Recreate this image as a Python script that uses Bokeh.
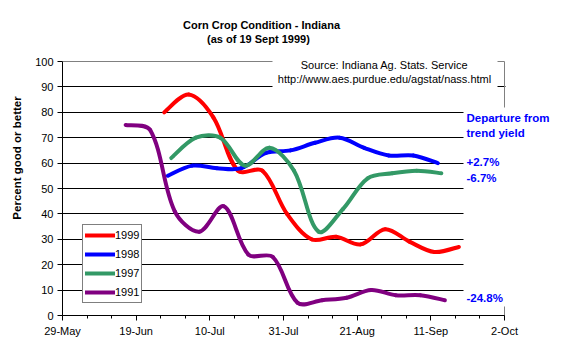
import datetime as dt
import numpy as np
from bokeh.plotting import figure
from bokeh.models import (FixedTicker, Label, BoxAnnotation, Legend, LegendItem,
                          Range1d, ColumnDataSource)
from bokeh.embed import file_html
from bokeh.resources import INLINE

# ---------------- data ----------------
x_start_md = "05-29"
x_end_md = "10-02"
x_major_md = ["05-29", "06-19", "07-10", "07-31", "08-21", "09-11", "10-02"]
y_ticks = [0, 10, 20, 30, 40, 50, 60, 70, 80, 90, 100]
grid_ticks = [10, 20, 30, 40, 50, 60, 70, 80, 90]

dates_1999 = ["06-27", "07-04", "07-11", "07-18", "07-25", "08-01", "08-08",
              "08-15", "08-22", "08-29", "09-05", "09-12", "09-19"]
vals_1999 = [80, 87, 78, 57, 57, 40, 30, 31, 28, 34, 29, 25, 27]

dates_1998 = ["06-28", "07-05", "07-12", "07-19", "07-26", "08-02", "08-09",
              "08-16", "08-23", "08-30", "09-06", "09-13"]
vals_1998 = [55, 59, 58, 58, 64, 65, 68, 70, 66, 63, 63, 60]

dates_1997 = ["06-29", "07-06", "07-13", "07-20", "07-27", "08-03", "08-10",
              "08-17", "08-24", "08-31", "09-07", "09-14"]
vals_1997 = [62, 70, 70, 59, 66, 57, 33, 42, 54, 56, 57, 56]

dates_1991 = ["06-16", "06-23", "06-30", "07-07", "07-14", "07-21", "07-28",
              "08-04", "08-11", "08-18", "08-25", "09-01", "09-08", "09-15"]
vals_1991 = [75, 73, 41, 33, 43, 24, 23, 5, 6, 7, 10, 8, 8, 6]

series_names = ["1999", "1998", "1997", "1991"]
series_colors = ["#FF0000", "#0000FF", "#339966", "#800080"]
departure_labels = {"1998": "+2.7%", "1997": "-6.7%", "1991": "-24.8%"}

# ---------------- helpers ----------------
EPOCH = dt.datetime(1970, 1, 1)


def to_dt(md):
    return dt.datetime.strptime("1999-" + md, "%Y-%m-%d")


def to_ms(md):
    return (to_dt(md) - EPOCH).total_seconds() * 1000.0


X0, X1 = to_ms(x_start_md), to_ms(x_end_md)
Y0, Y1 = 0.0, 100.0
# pixel geometry of the chart's plot area (axes extent)
FL, FR, FT, FB = 62, 504, 61, 315
W, H = 562, 356
SX = (FR - FL) / (X1 - X0)   # px per ms
SY = (FB - FT) / (Y1 - Y0)   # px per unit


def px_x(px):
    return X0 + (px - FL) / SX


def px_y(py):
    return Y0 + (FB - py) / SY


def bezier_source(mds, vals, tension=1.0 / 3.0):
    """Smoothed-line (spreadsheet style) Bezier segments through the points."""
    x = np.array([to_ms(m) for m in mds])
    y = np.array(vals, dtype=float)
    n = len(x)
    P = np.column_stack([(x - X0) * SX, (y - Y0) * SY])   # screen-like space
    seg = np.hypot(*(P[1:] - P[:-1]).T)                      # segment lengths
    after = np.zeros_like(P)
    before = np.zeros_like(P)
    for i in range(n):
        if i == 0:
            v = P[1] - P[0]
            after[i] = P[i] + v * 0.5 * tension
        elif i == n - 1:
            v = P[i] - P[i - 1]
            before[i] = P[i] - v * 0.5 * tension
        else:
            v = P[i + 1] - P[i - 1]
            tot = seg[i - 1] + seg[i]
            after[i] = P[i] + v * (seg[i] / tot) * tension
            before[i] = P[i] - v * (seg[i - 1] / tot) * tension
    c0 = after[:-1]
    c1 = before[1:]
    return ColumnDataSource(dict(
        x0=x[:-1], y0=y[:-1], x1=x[1:], y1=y[1:],
        cx0=X0 + c0[:, 0] / SX, cy0=Y0 + c0[:, 1] / SY,
        cx1=X0 + c1[:, 0] / SX, cy1=Y0 + c1[:, 1] / SY))


FONT = "Liberation Sans"

# frame spans to the right and top canvas edges so that free texts are not clipped
p = figure(width=W, height=H, x_axis_type="datetime", output_backend="svg",
           toolbar_location=None, title=None,
           x_range=Range1d(X0, px_x(W)), y_range=Range1d(Y0, px_y(0)),
           min_border_left=FL, min_border_right=0,
           min_border_top=0, min_border_bottom=H - FB)
p.background_fill_color = "white"
p.border_fill_color = "white"
p.outline_line_color = None

# grid
p.xgrid.grid_line_color = None
p.ygrid.ticker = FixedTicker(ticks=grid_ticks)
p.ygrid.grid_line_color = "black"
p.ygrid.grid_line_width = 1

# plot-area border (top and right) in grey
p.segment(x0=[X0, X1], y0=[Y1, Y1], x1=[X1, X1], y1=[Y1, Y0],
          line_color="#808080", line_width=1)

# y axis
p.yaxis.bounds = (Y0, Y1)
p.yaxis.ticker = FixedTicker(ticks=y_ticks)
p.yaxis.major_tick_out = 5
p.yaxis.major_tick_in = 0
p.yaxis.minor_tick_out = 0
p.yaxis.minor_tick_in = 0
p.yaxis.major_label_standoff = 4
p.yaxis.major_label_text_font = FONT
p.yaxis.major_label_text_font_size = "11px"
p.yaxis.major_label_text_color = "black"
p.yaxis.axis_line_color = "black"
p.yaxis.major_tick_line_color = "black"
p.yaxis.axis_label = "Percent good or better"
p.yaxis.axis_label_text_font = FONT
p.yaxis.axis_label_text_font_size = "11.5px"
p.yaxis.axis_label_text_font_style = "bold"
p.yaxis.axis_label_text_color = "black"
p.yaxis.axis_label_standoff = 9

# x axis
major_ms = [to_ms(m) for m in x_major_md]
minor_ms = [X0 + k * 7 * 86400000.0 for k in range(0, 19)]
p.xaxis.bounds = (X0, X1)
p.xaxis.ticker = FixedTicker(ticks=major_ms, minor_ticks=minor_ms)
p.xaxis.major_label_overrides = {
    v: "%d-%s" % (to_dt(m).day, to_dt(m).strftime("%b"))
    for v, m in zip(major_ms, x_major_md)}
p.xaxis.major_tick_out = 5
p.xaxis.major_tick_in = 0
p.xaxis.minor_tick_out = 3
p.xaxis.minor_tick_in = 0
p.xaxis.major_label_standoff = 4
p.xaxis.major_label_text_font = FONT
p.xaxis.major_label_text_font_size = "11px"
p.xaxis.major_label_text_color = "black"
p.xaxis.axis_line_color = "black"
p.xaxis.major_tick_line_color = "black"
p.xaxis.minor_tick_line_color = "black"

# series
all_dates = [dates_1999, dates_1998, dates_1997, dates_1991]
all_vals = [vals_1999, vals_1998, vals_1997, vals_1991]
renderers = []
for name, col, d, v in zip(series_names, series_colors, all_dates, all_vals):
    src = bezier_source(d, v)
    r = p.bezier(x0="x0", y0="y0", x1="x1", y1="y1", cx0="cx0", cy0="cy0",
                 cx1="cx1", cy1="cy1", source=src, line_color=col,
                 line_width=4, line_cap="round")
    renderers.append(r)

# white text boxes covering the grid (as in the original)
for left, right, bottom, top in [(px_x(463), None, px_y(306), px_y(107)),
                                 (px_x(505), None, px_y(107), None),
                                 (px_x(272), px_x(497), px_y(95), None)]:
    p.add_layout(BoxAnnotation(left=left, right=right, bottom=bottom, top=top,
                               fill_color="white", fill_alpha=1,
                               line_color=None))

# legend
legend = Legend(items=[LegendItem(label=n, renderers=[r])
                       for n, r in zip(series_names, renderers)],
                location=(20, 12), orientation="vertical",
                border_line_color="black", border_line_width=1,
                background_fill_color="white", background_fill_alpha=1,
                glyph_width=30, glyph_height=16, label_height=16,
                label_standoff=0, spacing=3, padding=2, margin=0,
                label_text_font=FONT, label_text_font_size="11px",
                label_text_color="black")
p.add_layout(legend)


def add_text(px, py, text, size="11px", bold=False, color="black", align="center"):
    p.add_layout(Label(x=px_x(px), y=px_y(py), text=text,
                       text_align=align, text_baseline="middle",
                       text_font=FONT, text_font_size=size,
                       text_font_style="bold" if bold else "normal",
                       text_color=color))


# titles
add_text(261, 24, "Corn Crop Condition - Indiana", bold=True)
add_text(261, 38, "(as of  19  Sept 1999)", bold=True)

# source
add_text(384, 64, "Source: Indiana Ag. Stats. Service")
add_text(384, 78, "http://www.aes.purdue.edu/agstat/nass.html")

# departure from trend yield
add_text(466, 117, "Departure from", size="11.5px", bold=True, color="#0000FF", align="left")
add_text(466, 132, "trend yield", size="11.5px", bold=True, color="#0000FF", align="left")
dep_y = {"1998": 161.5, "1997": 177, "1991": 297}
for name, txt in departure_labels.items():
    add_text(466, dep_y[name], txt, size="11.5px", bold=True, color="#0000FF", align="left")

open("out.html", "w").write(file_html(p, INLINE))
